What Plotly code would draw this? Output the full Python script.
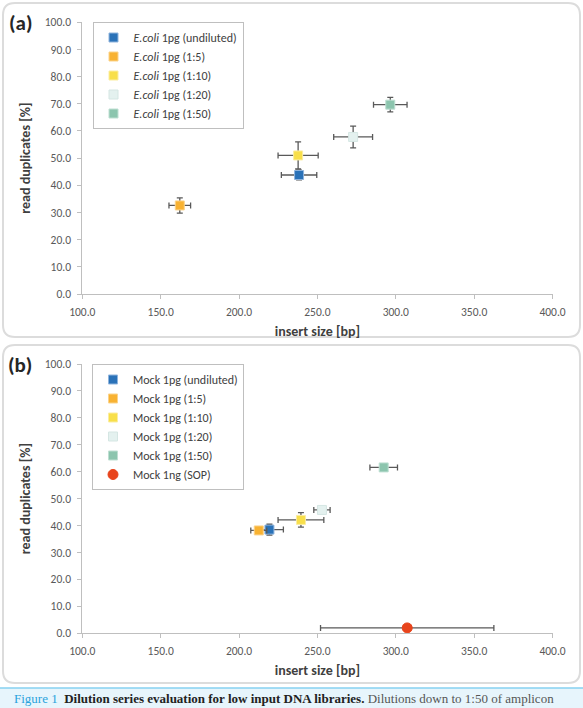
import plotly.graph_objects as go

# ---------------- data ----------------
ecoli_names = ["<i>E.coli</i> 1pg (undiluted)", "<i>E.coli</i> 1pg (1:5)", "<i>E.coli</i> 1pg (1:10)",
               "<i>E.coli</i> 1pg (1:20)", "<i>E.coli</i> 1pg (1:50)"]
ecoli_insert = [238.3, 162.2, 237.7, 272.8, 296.5]
ecoli_insert_err = [11.3, 6.9, 12.8, 12.4, 10.7]
ecoli_dup = [43.8, 32.6, 51.0, 57.8, 69.7]
ecoli_dup_err = [1.8, 2.8, 5.0, 4.0, 2.7]

mock_names = ["Mock 1pg (undiluted)", "Mock 1pg (1:5)", "Mock 1pg (1:10)",
              "Mock 1pg (1:20)", "Mock 1pg (1:50)", "Mock 1ng (SOP)"]
mock_insert = [219.4, 212.6, 239.5, 252.9, 292.3, 307.3]
mock_insert_err = [8.9, 5.1, 14.6, 5.2, 8.8, 55.3]
mock_dup = [38.5, 38.2, 42.1, 45.8, 61.6, 2.0]
mock_dup_err = [2.0, 0.5, 2.7, 0.8, 0.8, 0.3]

x_ticks = [100, 150, 200, 250, 300, 350, 400]
y_ticks = [0, 10, 20, 30, 40, 50, 60, 70, 80, 90, 100]

# ---------------- styles ----------------
W, H = 583, 708
colors = ["#2A72B8", "#F8B232", "#F8DF4A", "#E4F1EF", "#8CC5AE", "#E8441C"]
edge = ["#8FB4DD", "#FBD38A", "#FBEDA0", "#D5E6E3", "#BEDFD2", "#E8441C"]
symbols = ["square"] * 5 + ["circle"]
FONT = "Carlito, Calibri, Lato, sans-serif"
TXT = "#404040"
TICK = "#595959"
AX = "#BFBFBF"


def px_x(p):
    return p / W


def px_y(p):
    return 1 - p / H


fig = go.Figure()


def add_series(names, xs, xe, ys, ye, xa, ya, legend):
    for i, n in enumerate(names):
        fig.add_trace(go.Scatter(
            x=[xs[i]], y=[ys[i]], name=n, mode="markers",
            xaxis=xa, yaxis=ya, legend=legend,
            marker=dict(symbol=symbols[i], size=9 if symbols[i] == "square" else 10,
                        color=colors[i], line=dict(color=edge[i], width=1)),
            error_x=dict(type="data", array=[xe[i]], color="#595959", thickness=1.3, width=3),
            error_y=dict(type="data", array=[ye[i]], color="#595959", thickness=1.3, width=3),
        ))


add_series(ecoli_names, ecoli_insert, ecoli_insert_err, ecoli_dup, ecoli_dup_err, "x", "y", "legend")
add_series(mock_names, mock_insert, mock_insert_err, mock_dup, mock_dup_err, "x2", "y2", "legend2")

# axes geometry (pixels)
ax_left, ax_right = 82.3, 552.5
a_top, a_bot = 22.3, 294.0
b_top, b_bot = 364.0, 633.3

xcommon = dict(range=[100, 400], tickvals=x_ticks, ticktext=[f"{v:.1f}" for v in x_ticks],
               showline=True, linecolor=AX, linewidth=1, ticks="outside", ticklen=4,
               tickcolor=AX, showgrid=False, zeroline=False, automargin=False,
               ticklabelstandoff=3,
               tickfont=dict(family=FONT, size=11.5, color=TICK),
               title=dict(text="<b>insert size [bp]</b>", font=dict(family=FONT, size=14, color=TXT),
                          standoff=8))
ycommon = dict(range=[0, 100], tickvals=y_ticks, ticktext=[f"{v:.1f}" for v in y_ticks],
               showline=True, linecolor=AX, linewidth=1, ticks="outside", ticklen=4,
               tickcolor=AX, showgrid=False, zeroline=False, automargin=False,
               ticklabelstandoff=4,
               tickfont=dict(family=FONT, size=11.5, color=TICK),
               title=dict(text="<b>read duplicates [%]</b>", font=dict(family=FONT, size=14, color=TXT),
                          standoff=10))

fig.update_layout(
    width=W, height=H, autosize=False,
    margin=dict(l=0, r=0, t=0, b=0, pad=0, autoexpand=False),
    paper_bgcolor="white", plot_bgcolor="white",
    xaxis=dict(domain=[px_x(ax_left), px_x(ax_right)], anchor="y", **xcommon),
    yaxis=dict(domain=[px_y(a_bot), px_y(a_top)], anchor="x", **ycommon),
    xaxis2=dict(domain=[px_x(ax_left), px_x(ax_right)], anchor="y2", **xcommon),
    yaxis2=dict(domain=[px_y(b_bot), px_y(b_top)], anchor="x2", **ycommon),
    legend=dict(x=px_x(92.5), y=px_y(22), xanchor="left", yanchor="top",
                bgcolor="white", bordercolor=AX, borderwidth=1,
                font=dict(family=FONT, size=12, color=TXT), tracegroupgap=0,
                itemwidth=30),
    legend2=dict(x=px_x(92.0), y=px_y(364), xanchor="left", yanchor="top",
                 bgcolor="white", bordercolor=AX, borderwidth=1,
                 font=dict(family=FONT, size=12, color=TXT), tracegroupgap=0,
                 itemwidth=30),
)


def rounded_rect(x0, y0, x1, y1, r):
    rx, ry = r / W, r / H
    X0, X1 = px_x(x0), px_x(x1)
    Y0, Y1 = px_y(y0), px_y(y1)  # Y0 top, Y1 bottom
    return (f"M {X0 + rx},{Y0} L {X1 - rx},{Y0} Q {X1},{Y0} {X1},{Y0 - ry} "
            f"L {X1},{Y1 + ry} Q {X1},{Y1} {X1 - rx},{Y1} "
            f"L {X0 + rx},{Y1} Q {X0},{Y1} {X0},{Y1 + ry} "
            f"L {X0},{Y0 - ry} Q {X0},{Y0} {X0 + rx},{Y0} Z")


shapes = [
    dict(type="path", xref="paper", yref="paper", path=rounded_rect(3, 3, 580, 337, 12),
         line=dict(color="#DCDCDC", width=2), layer="below"),
    dict(type="path", xref="paper", yref="paper", path=rounded_rect(3, 345, 580, 683, 12),
         line=dict(color="#DCDCDC", width=2), layer="below"),
    dict(type="rect", xref="paper", yref="paper", x0=0, x1=1, y0=px_y(708), y1=px_y(688),
         fillcolor="#E7F5FC", line=dict(width=0), layer="below"),
    dict(type="line", xref="paper", yref="paper", x0=0, x1=1, y0=px_y(688), y1=px_y(688),
         line=dict(color="#86D0F0", width=1.5)),
]

annotations = [
    dict(text="<b>(a)</b>", x=px_x(20), y=px_y(23), xref="paper", yref="paper",
         xanchor="center", yanchor="middle",
         showarrow=False, font=dict(family=FONT, size=21, color="#262626")),
    dict(text="<b>(b)</b>", x=px_x(20), y=px_y(365), xref="paper", yref="paper",
         xanchor="center", yanchor="middle",
         showarrow=False, font=dict(family=FONT, size=21, color="#262626")),
    dict(text=("<span style='color:#2AA3DC'>Figure 1</span>  "
               "<b>Dilution series evaluation for low input DNA libraries.</b> "
               "<span style='color:#555555'>Dilutions down to 1:50 of amplicon</span>"),
         x=px_x(12), y=px_y(698.5), xref="paper", yref="paper", xanchor="left", yanchor="middle",
         showarrow=False, font=dict(family="Liberation Serif, Times New Roman, serif", size=13,
                                    color="#222222")),
]

fig.update_layout(shapes=shapes, annotations=annotations)

fig.write_html("out.html")
